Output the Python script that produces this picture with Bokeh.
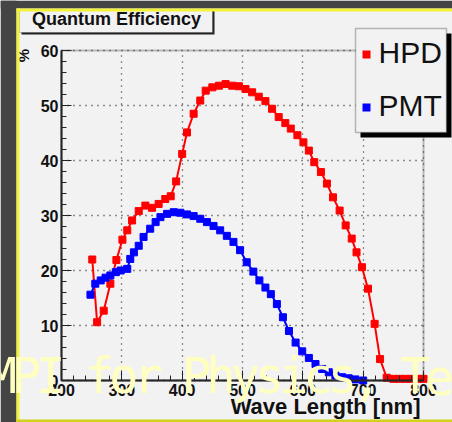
import math
from bokeh.plotting import figure
from bokeh.models import FixedTicker, Label, BoxAnnotation, Range1d, Grid
from bokeh.embed import file_html
from bokeh.resources import INLINE

# ---- data ----
hpd_nm = [251, 259, 270, 281, 291, 301, 309, 317, 328, 339, 350, 361, 372, 381,
          390, 400, 408, 419, 430, 439, 450, 461, 472, 483, 494, 505, 516, 527,
          538, 549, 560, 571, 580, 591, 601, 610, 619, 630, 640, 650, 661, 671,
          681, 689, 698, 708, 719, 728, 739, 750, 760, 770, 780, 790, 800]
hpd_qe = [22.0, 10.6, 12.7, 17.6, 21.9, 25.6, 27.3, 29.1, 30.8, 31.8, 31.4, 32.1,
          33.0, 33.5, 36.2, 41.2, 45.1, 48.5, 50.9, 52.7, 53.3, 53.6, 53.9, 53.6,
          53.5, 53.0, 52.4, 51.6, 50.8, 49.4, 47.9, 46.8, 45.8, 44.6, 43.3, 41.8,
          39.7, 37.9, 35.8, 33.3, 30.9, 28.2, 25.8, 23.3, 20.6, 16.7, 10.3, 3.9,
          0.5, 0.3, 0.3, 0.3, 0.3, 0.3, 0.3]

pmt_nm = [248, 256, 265, 273, 281, 290, 298, 309, 314, 320, 328, 336, 347, 356,
          364, 375, 386, 397, 408, 419, 430, 441, 452, 463, 474, 485, 496, 507,
          518, 528, 538, 547, 557, 567, 577, 588, 599, 610, 621, 632, 643, 654,
          665, 676, 687, 700]
pmt_qe = [15.6, 17.6, 18.2, 18.7, 19.1, 19.7, 20.0, 20.3, 22.1, 23.3, 24.5, 26.1,
          27.6, 28.8, 29.7, 30.3, 30.6, 30.5, 30.2, 29.9, 29.4, 28.8, 28.1, 27.3,
          26.3, 25.2, 23.7, 21.5, 19.8, 18.2, 16.9, 15.7, 13.9, 11.5, 9.0, 6.9,
          5.3, 4.1, 3.0, 2.1, 1.5, 0.9, 0.6, 0.4, 0.2, 0.0]

x_ticks = [200, 300, 400, 500, 600, 700, 800]
y_ticks = [0, 10, 20, 30, 40, 50, 60]
x_minor = list(range(200, 801, 20))
y_minor = list(range(0, 61, 2))

title_text = "Quantum Efficiency"
x_title = "Wave Length [nm]"
y_title = "%"
series_names = ["HPD", "PMT"]
series_colors = ["#ff0000", "#0000ff"]
overlay_text = "MPI for Physics, Te"

# ---- layout: the frame fills the canvas; the plot box sits at these pixels ----
W, H = 452, 422
PL, PR, PT, PB = 61, 423, 50, 380
X0, X1 = x_ticks[0], x_ticks[-1]
Y0, Y1 = y_ticks[0], y_ticks[-1]
kx = (PR - PL) / (X1 - X0)
ky = (PB - PT) / (Y1 - Y0)
BG = "#f2f2f2"

p = figure(width=W, height=H,
           x_range=Range1d(X0 - PL / kx, X1 + (W - PR) / kx),
           y_range=Range1d(Y0 - (H - PB) / ky, Y1 + PT / ky),
           output_backend="svg", toolbar_location=None,
           min_border=0, min_border_left=0, min_border_right=0,
           min_border_top=0, min_border_bottom=0)
p.title_location = None
p.background_fill_color = BG
p.border_fill_color = BG
p.outline_line_color = None

p.xaxis.fixed_location = Y0
p.yaxis.fixed_location = X0
p.xaxis.bounds = (X0, X1)
p.yaxis.bounds = (Y0, Y1)

for ax, ticks, minor in ((p.xaxis, x_ticks, x_minor), (p.yaxis, y_ticks, y_minor)):
    ax.ticker = FixedTicker(ticks=ticks, minor_ticks=minor)
    ax.axis_line_color = "#222222"
    ax.axis_line_width = 2
    ax.major_tick_in = 10
    ax.major_tick_out = 0
    ax.minor_tick_in = 5
    ax.minor_tick_out = 0
    ax.major_tick_line_color = "#222222"
    ax.minor_tick_line_color = "#222222"
    ax.major_tick_line_width = 1
    ax.minor_tick_line_width = 1
    ax.major_label_text_font = "Liberation Sans"
    ax.major_label_text_font_style = "bold"
    ax.major_label_text_font_size = "16px"
    ax.major_label_text_color = "#111111"
p.xaxis.major_label_standoff = 3
p.yaxis.major_label_standoff = 3

has_cross = "cross_bounds" in Grid.properties()
for g, cb in ((p.xgrid, (Y0, Y1)), (p.ygrid, (X0, X1))):
    g.grid_line_color = "#222222"
    g.grid_line_dash = "1 5"
    g.grid_line_width = 1.3
    if has_cross:
        g.cross_bounds = cb
    else:
        g.visible = False
if not has_cross:
    p.segment(x_ticks[1:-1], [Y0] * 5, x_ticks[1:-1], [Y1] * 5,
              line_color="#222222", line_dash="1 5", line_width=1.3)
    p.segment([X0] * 5, y_ticks[1:-1], [X1] * 5, y_ticks[1:-1],
              line_color="#222222", line_dash="1 5", line_width=1.3)

for nm, qe, col in ((hpd_nm, hpd_qe, series_colors[0]), (pmt_nm, pmt_qe, series_colors[1])):
    p.line(nm, qe, line_color=col, line_width=2)
    p.scatter(nm, qe, marker="square", size=7, fill_color=col, line_color=col)

# plot frame (top and right edges)
p.add_layout(BoxAnnotation(left=X0, right=X1, bottom=Y0, top=Y1,
                           fill_alpha=0, line_color="#333333", line_width=2))


def box(x0, y0, x1, y1, fill, line=None, lw=1, level="annotation"):
    b = BoxAnnotation(left=x0, right=x1, top=H - y0, bottom=H - y1,
                      left_units="screen", right_units="screen",
                      top_units="screen", bottom_units="screen",
                      fill_color=fill, fill_alpha=1, line_color=line,
                      line_width=lw, level=level)
    p.add_layout(b)
    return b


def label(x, y, text, size, bold=False, align="left", baseline="alphabetic",
          font="Liberation Sans", color="#111111", angle=0, level="annotation"):
    # y is the wanted baseline in image pixels; correct for the renderer's offset
    fs = float(size.replace("px", ""))
    shift = 0.4 * fs if baseline == "alphabetic" else 0
    lb = Label(x=x, y=H - (y - shift), x_units="screen", y_units="screen", text=text,
               text_font=font, text_font_size=size,
               text_font_style="bold" if bold else "normal",
               text_align=align, text_baseline=baseline, text_color=color,
               angle=angle, level=level)
    p.add_layout(lb)
    return lb


# title box with shadow
box(21, 10, 214, 34, "#222222")
box(19, 9, 212, 32, BG, line="#333333", lw=1)
label(116, 25.5, title_text, "18px", bold=True, align="center")

# legend with shadow
box(360, 33, 451, 137, "#000000")
box(355, 28, 446, 132, BG, line="#222222", lw=1.5)
for i, (name, col) in enumerate(zip(series_names, series_colors)):
    cy = 54 + 53 * i
    box(362, cy - 4, 370, cy + 4, col)
    label(378, cy + 10, name, "30px")

# axis titles
label(420, 415, x_title, "22px", bold=True, align="right")
label(23, 55, y_title, "15px", bold=True, align="center", baseline="middle",
      angle=math.pi / 2)

# slide frame (dark margin + yellow border)
box(0, 0, 16, 422, "#444444")
box(0, 0, 452, 8, "#444444")
box(16, 8, 19, 422, "#f2f23a")
box(16, 8, 452, 11, "#f2f23a")
box(16, 419, 452, 422, "#d2d21a")

# slide overlay text
for i, ch in enumerate(overlay_text):
    if ch == " ":
        continue
    label(1.7 + 24.3 * i, 396, ch, "49px", font="DejaVu Sans Mono",
          align="center", color="#ffffc0", level="overlay")

open("out.html", "w").write(file_html(p, INLINE))
